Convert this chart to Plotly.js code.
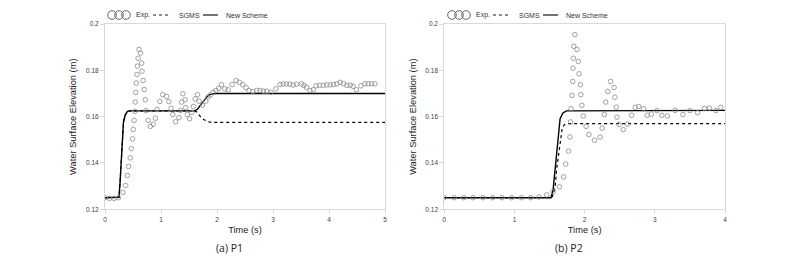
<!DOCTYPE html>
<html>
<head>
<meta charset="utf-8">
<script src="https://cdn.plot.ly/plotly-3.0.1.min.js"></script>
<style>html,body{margin:0;padding:0;background:#fff}#chart{width:800px;height:263px}</style>
</head>
<body>
<div id="chart"></div>
<script>
// ---------- Data ----------
// Panel (a) P1
const p1ExpTime = [0,0.08,0.16,0.24,0.32,0.37,0.40,0.42,0.45,0.47,0.49,0.505,0.52,0.535,0.54,0.55,0.56,0.57,0.58,0.59,0.607,0.635,0.655,0.66,0.68,0.70,0.72,0.73,0.77,0.81,0.86,0.90,0.93,0.98,1.03,1.10,1.14,1.18,1.21,1.26,1.32,1.35,1.37,1.39,1.43,1.44,1.47,1.51,1.55,1.58,1.61,1.65,1.68,1.74,1.80,1.84,1.88,1.93,1.98,2.03,2.08,2.14,2.20,2.27,2.34,2.40,2.46,2.52,2.57,2.64,2.71,2.77,2.83,2.89,2.96,3.05,3.125,3.18,3.24,3.30,3.36,3.42,3.51,3.55,3.60,3.66,3.72,3.77,3.83,3.90,3.96,4.02,4.08,4.14,4.20,4.26,4.32,4.38,4.43,4.49,4.57,4.64,4.70,4.76,4.82];
const p1ExpElev = [0.125,0.1247,0.1247,0.125,0.1273,0.1303,0.1346,0.1385,0.1422,0.1462,0.1504,0.1545,0.1584,0.1623,0.1663,0.1705,0.1745,0.1782,0.1818,0.1852,0.189,0.1874,0.1831,0.1796,0.1756,0.1717,0.1673,0.1626,0.1584,0.1558,0.1567,0.1593,0.1631,0.1666,0.1695,0.1687,0.1665,0.1636,0.1609,0.1578,0.1596,0.1627,0.1663,0.1699,0.1673,0.1639,0.1609,0.1591,0.1618,0.1644,0.1677,0.1695,0.1667,0.165,0.1667,0.1685,0.1693,0.1705,0.1713,0.1722,0.1738,0.172,0.1716,0.1739,0.1756,0.1748,0.1738,0.1725,0.1713,0.1708,0.1713,0.1713,0.171,0.171,0.1705,0.172,0.1739,0.1741,0.1741,0.174,0.1736,0.174,0.1742,0.1735,0.1727,0.1713,0.1716,0.1733,0.1735,0.1735,0.1737,0.1737,0.1739,0.1742,0.1748,0.1742,0.1735,0.1736,0.1731,0.1716,0.1733,0.1742,0.1742,0.1742,0.1742];
const p1SgmsTime = [0,0.25,0.27,0.29,0.31,0.33,0.36,0.40,0.45,1.60,1.64,1.70,1.76,1.83,1.90,2.0,5.0];
const p1SgmsElev = [0.125,0.1252,0.132,0.141,0.150,0.1577,0.1606,0.1623,0.1625,0.1625,0.162,0.1601,0.1588,0.1579,0.1575,0.1575,0.1575];
const p1NewTime = [0,0.25,0.27,0.29,0.31,0.33,0.36,0.40,0.45,1.60,1.65,1.70,1.75,1.80,1.85,1.90,2.0,5.0];
const p1NewElev = [0.125,0.1252,0.132,0.141,0.150,0.1577,0.1606,0.1623,0.1625,0.1625,0.1632,0.1649,0.1665,0.1680,0.1692,0.1698,0.170,0.170];

// Panel (b) P2
const p2ExpTime = [0,0.138,0.276,0.41,0.55,0.69,0.82,0.96,1.10,1.23,1.35,1.46,1.55,1.64,1.70,1.73,1.77,1.79,1.80,1.805,1.82,1.83,1.835,1.84,1.845,1.86,1.89,1.91,1.92,1.94,1.945,1.96,1.98,2.02,2.06,2.14,2.22,2.25,2.28,2.30,2.33,2.37,2.42,2.43,2.45,2.46,2.49,2.55,2.61,2.67,2.72,2.77,2.84,2.89,2.95,3.03,3.10,3.18,3.29,3.40,3.50,3.61,3.71,3.78,3.87,3.94];
const p2ExpElev = [0.125,0.125,0.125,0.125,0.125,0.125,0.125,0.125,0.125,0.125,0.1253,0.1262,0.1276,0.1297,0.134,0.1395,0.1451,0.1512,0.1577,0.1634,0.1692,0.1752,0.1809,0.1852,0.1904,0.1954,0.189,0.1838,0.1785,0.1738,0.1695,0.1649,0.1603,0.1558,0.1523,0.1498,0.1512,0.155,0.1609,0.1663,0.1709,0.1752,0.1726,0.1684,0.1641,0.1598,0.1566,0.1544,0.1568,0.1606,0.164,0.1644,0.1634,0.1606,0.1611,0.1626,0.1606,0.1603,0.1627,0.1609,0.1626,0.1617,0.1635,0.1637,0.1626,0.164];
const p2SgmsTime = [0,1.53,1.56,1.58,1.60,1.62,1.64,1.66,1.68,1.71,1.76,4.0];
const p2SgmsElev = [0.125,0.125,0.127,0.1297,0.137,0.142,0.147,0.152,0.155,0.1565,0.157,0.157];
const p2NewTime = [0,1.52,1.55,1.59,1.625,1.65,1.69,1.74,4.0];
const p2NewElev = [0.125,0.125,0.1283,0.1412,0.1541,0.1591,0.1616,0.1625,0.1627];

const seriesNames = ['Exp.', 'SGMS', 'New Scheme'];
const panelCaptions = ['(a) P1', '(b) P2'];
const xTitle = 'Time (s)';
const yTitle = 'Water Surface Elevation (m)';

// ---------- Layout helpers ----------
const W = 800, H = 263;
const px = v => v / W;
const py = v => 1 - v / H;

const expStyle = {mode:'markers', marker:{symbol:'circle-open', size:4.6, color:'#8a8a8a', line:{width:0.8, color:'#8a8a8a'}}, showlegend:false, hoverinfo:'skip'};
const sgmsStyle = {mode:'lines', line:{color:'#000', width:1.2, dash:'dot'}, showlegend:false};
const newStyle = {mode:'lines', line:{color:'#000', width:1.4}, showlegend:false};

const traces = [
  Object.assign({x:p1SgmsTime, y:p1SgmsElev, xaxis:'x', yaxis:'y', name:seriesNames[1]}, sgmsStyle),
  Object.assign({x:p1NewTime, y:p1NewElev, xaxis:'x', yaxis:'y', name:seriesNames[2]}, newStyle),
  Object.assign({x:p1ExpTime, y:p1ExpElev, xaxis:'x', yaxis:'y', name:seriesNames[0]}, expStyle),
  Object.assign({x:p2SgmsTime, y:p2SgmsElev, xaxis:'x2', yaxis:'y2', name:seriesNames[1]}, sgmsStyle),
  Object.assign({x:p2NewTime, y:p2NewElev, xaxis:'x2', yaxis:'y2', name:seriesNames[2]}, newStyle),
  Object.assign({x:p2ExpTime, y:p2ExpElev, xaxis:'x2', yaxis:'y2', name:seriesNames[0]}, expStyle)
];

const tickFont = {family:'Liberation Sans, Arial, sans-serif', size:6.5, color:'#404040'};
const titleFont = {family:'Liberation Sans, Arial, sans-serif', size:9.3, color:'#222'};
const axisCommon = {showgrid:false, zeroline:false, showline:true, linecolor:'#d9d9d9', linewidth:1, mirror:true,
  ticks:'outside', tickcolor:'#d9d9d9', ticklen:4, tickfont:tickFont};

const yDomain = [1 - 209.3/H, 1 - 24/H];
const layout = {
  width:W, height:H, margin:{l:0, r:0, t:0, b:0},
  paper_bgcolor:'#fff', plot_bgcolor:'#fff',
  xaxis: Object.assign({}, axisCommon, {domain:[px(105), px(385)], range:[0,5], dtick:1, anchor:'y',
    title:{text:xTitle, font:titleFont, standoff:4}}),
  yaxis: Object.assign({}, axisCommon, {domain:yDomain, range:[0.12,0.2], dtick:0.02, anchor:'x',
    title:{text:yTitle, font:titleFont, standoff:7}}),
  xaxis2: Object.assign({}, axisCommon, {domain:[px(444.3), px(725)], range:[0,4], dtick:1, anchor:'y2',
    title:{text:xTitle, font:titleFont, standoff:4}}),
  yaxis2: Object.assign({}, axisCommon, {domain:yDomain, range:[0.12,0.2], dtick:0.02, anchor:'x2',
    title:{text:yTitle, font:titleFont, standoff:7}}),
  shapes:[], annotations:[]
};

// Captions
[[230, panelCaptions[0]], [569, panelCaptions[1]]].forEach(([cx, txt]) => {
  layout.annotations.push({xref:'paper', yref:'paper', x:px(cx), y:py(248), text:txt, showarrow:false,
    xanchor:'center', yanchor:'middle', font:{family:'Open Sans, Noto Sans, sans-serif', size:10.5, color:'#222'}});
});

// Custom legends (one above each panel)
const legFont = {family:'Liberation Sans, Arial, sans-serif', size:7, color:'#333'};
[0, 340].forEach(off => {
  [112, 119, 126].forEach(cx => {
    layout.shapes.push({type:'circle', xref:'paper', yref:'paper',
      x0:px(off+cx-4.3), x1:px(off+cx+4.3), y0:py(15+4.3), y1:py(15-4.3), line:{color:'#555', width:0.9}});
  });
  layout.shapes.push({type:'line', xref:'paper', yref:'paper', x0:px(off+153), x1:px(off+170), y0:py(15), y1:py(15),
    line:{color:'#000', width:0.9, dash:'dot'}});
  layout.shapes.push({type:'line', xref:'paper', yref:'paper', x0:px(off+203), x1:px(off+218), y0:py(15), y1:py(15),
    line:{color:'#000', width:1.1}});
  [[133.5, seriesNames[0]], [176.5, seriesNames[1]], [223.5, seriesNames[2]]].forEach(([lx, t]) => {
    layout.annotations.push({xref:'paper', yref:'paper', x:px(off+lx), y:py(15), text:t, showarrow:false,
      xanchor:'left', yanchor:'middle', font:legFont});
  });
});

Plotly.newPlot('chart', traces, layout, {displayModeBar:false, staticPlot:true});
</script>
</body>
</html>
